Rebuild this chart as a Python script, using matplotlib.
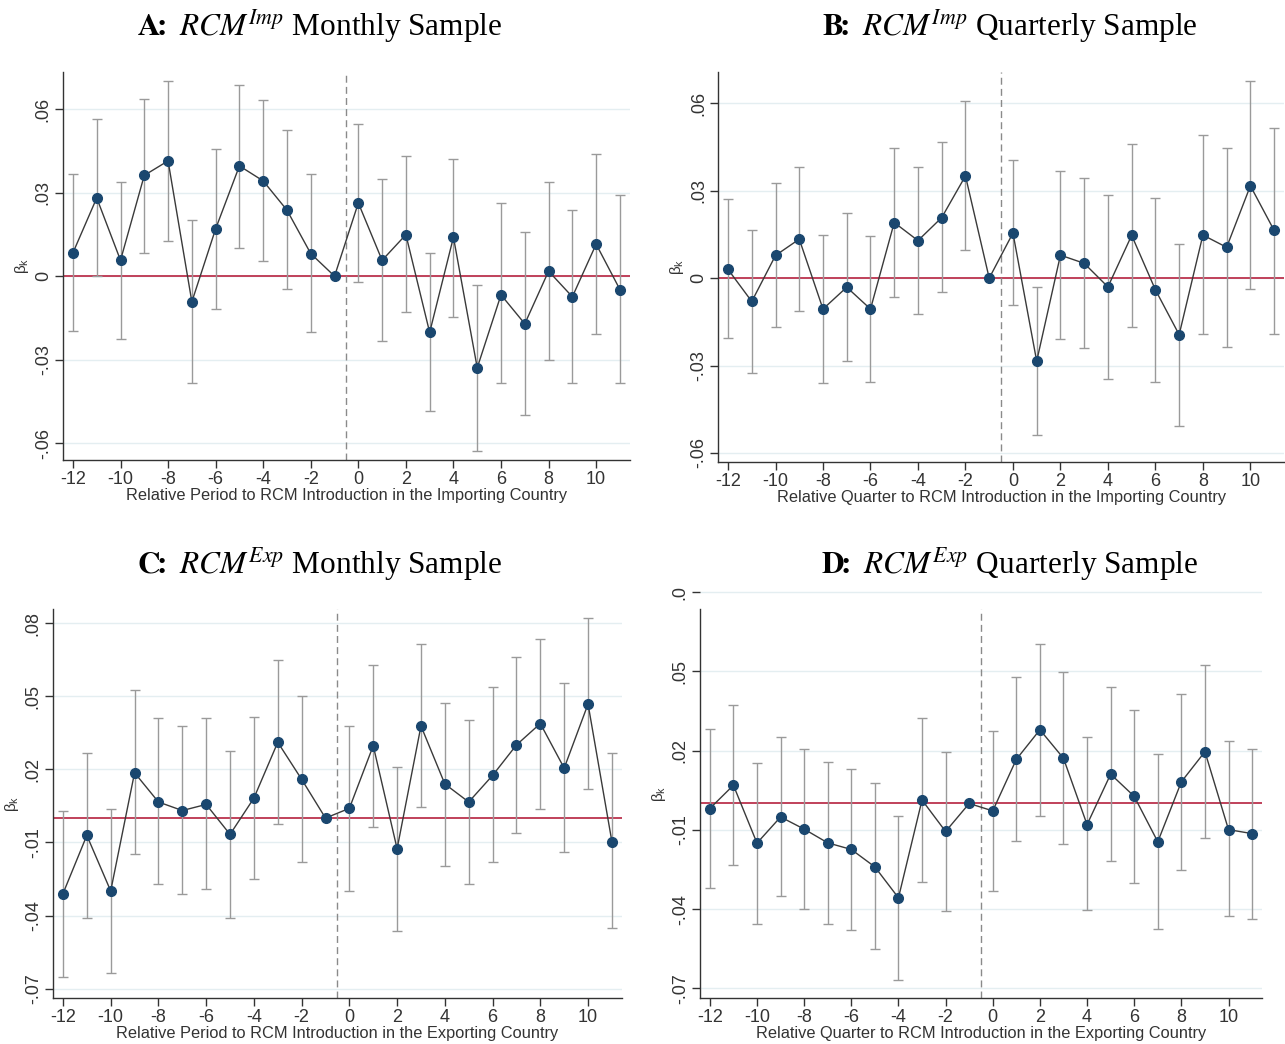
import numpy as np
import matplotlib
matplotlib.use("Agg")
import matplotlib.pyplot as plt

plt.rcParams['font.family'] = ['Liberation Sans', 'DejaVu Sans']
plt.rcParams['mathtext.fontset'] = 'stix'

periods = list(range(-12, 12))

# A: RCM Imp, monthly
a_coef = [0.0084, 0.0281, 0.0057, 0.0362, 0.0414, -0.0092, 0.0170, 0.0396, 0.0342, 0.0237, 0.0081, 0.0,
          0.0263, 0.0057, 0.0149, -0.0202, 0.0140, -0.0329, -0.0067, -0.0171, 0.0018, -0.0074, 0.0115, -0.0048]
a_hi = [0.0366, 0.0564, 0.0339, 0.0637, 0.0700, 0.0202, 0.0458, 0.0687, 0.0633, 0.0524, 0.0366, np.nan,
        0.0546, 0.0349, 0.0431, 0.0085, 0.0422, -0.0031, 0.0261, 0.0159, 0.0339, 0.0238, 0.0440, 0.0290]
a_lo = [-0.0196, 0.0000, -0.0227, 0.0085, 0.0128, -0.0385, -0.0117, 0.0102, 0.0054, -0.0047, -0.0201, np.nan,
        -0.0020, -0.0232, -0.0130, -0.0483, -0.0145, -0.0626, -0.0385, -0.0500, -0.0301, -0.0385, -0.0209, -0.0385]

# B: RCM Imp, quarterly
b_coef = [0.0030, -0.0080, 0.0078, 0.0134, -0.0106, -0.0031, -0.0106, 0.0191, 0.0129, 0.0208, 0.0351, 0.0,
          0.0155, -0.0285, 0.0079, 0.0051, -0.0030, 0.0147, -0.0040, -0.0194, 0.0148, 0.0106, 0.0317, 0.0164]
b_hi = [0.0271, 0.0164, 0.0325, 0.0380, 0.0149, 0.0224, 0.0145, 0.0447, 0.0380, 0.0466, 0.0609, np.nan,
        0.0406, -0.0030, 0.0368, 0.0343, 0.0287, 0.0461, 0.0276, 0.0118, 0.0490, 0.0447, 0.0677, 0.0516]
b_lo = [-0.0207, -0.0325, -0.0169, -0.0114, -0.0359, -0.0283, -0.0355, -0.0063, -0.0122, -0.0046, 0.0098, np.nan,
        -0.0093, -0.0540, -0.0210, -0.0240, -0.0346, -0.0166, -0.0355, -0.0506, -0.0190, -0.0237, -0.0038, -0.0190]

# C: RCM Exp, monthly
c_coef = [-0.0310, -0.0071, -0.0299, 0.0186, 0.0066, 0.0031, 0.0056, -0.0067, 0.0082, 0.0311, 0.0159, 0.0,
          0.0040, 0.0297, -0.0126, 0.0378, 0.0140, 0.0066, 0.0175, 0.0300, 0.0388, 0.0205, 0.0468, -0.0097]
c_hi = [0.0030, 0.0266, 0.0038, 0.0525, 0.0410, 0.0378, 0.0410, 0.0277, 0.0414, 0.0649, 0.0499, np.nan,
        0.0378, 0.0629, 0.0211, 0.0715, 0.0474, 0.0403, 0.0538, 0.0660, 0.0735, 0.0553, 0.0821, 0.0266]
c_lo = [-0.0652, -0.0410, -0.0634, -0.0148, -0.0271, -0.0312, -0.0293, -0.0410, -0.0248, -0.0026, -0.0182, np.nan,
        -0.0299, -0.0037, -0.0464, 0.0044, -0.0196, -0.0271, -0.0182, -0.0062, 0.0038, -0.0141, 0.0121, -0.0453]

# D: RCM Exp, quarterly
d_coef = [-0.0019, 0.0069, -0.0150, -0.0051, -0.0097, -0.0149, -0.0174, -0.0240, -0.0357, 0.0013, -0.0106, 0.0,
          -0.0028, 0.0167, 0.0279, 0.0171, -0.0080, 0.0111, 0.0027, -0.0145, 0.0082, 0.0196, -0.0099, -0.0114]
d_hi = [0.0283, 0.0371, 0.0154, 0.0251, 0.0208, 0.0158, 0.0130, 0.0076, -0.0047, 0.0322, 0.0196, np.nan,
        0.0274, 0.0479, 0.0605, 0.0498, 0.0253, 0.0442, 0.0354, 0.0186, 0.0413, 0.0524, 0.0236, 0.0208]
d_lo = [-0.0320, -0.0231, -0.0455, -0.0351, -0.0400, -0.0455, -0.0479, -0.0552, -0.0668, -0.0297, -0.0408, np.nan,
        -0.0330, -0.0143, -0.0047, -0.0153, -0.0404, -0.0219, -0.0302, -0.0474, -0.0251, -0.0129, -0.0427, -0.0436]

ab_yticks = [-0.06, -0.03, 0, 0.03, 0.06]
ab_ylabels = ['-.06', '-.03', '0', '.03', '.06']
cd_yticks = [-0.07, -0.04, -0.01, 0.02, 0.05, 0.08]
c_ylabels = ['-.07', '-.04', '-.01', '.02', '.05', '.08']
d_ylabels = ['-.07', '-.04', '-.01', '.02', '.05', '.0']
xticks = list(range(-12, 11, 2))

NAVY = '#1a476f'
GRID = '#e4eef1'
ZERO = '#c0415a'
INK = '#333333'


def draw_panel(ax, coef, lo, hi, ylim, yticks, ylabels, xlabel, spine_top=None):
    x = np.array(periods)
    coef = np.array(coef)
    lo = np.array(lo)
    hi = np.array(hi)
    ax.set_xlim(-12.42, 11.42)
    ax.set_ylim(*ylim)
    top = ylim[1] if spine_top is None else spine_top
    for t in yticks:
        ax.axhline(t, color=GRID, lw=1.0, zorder=0)
    ax.axhline(0, color=ZERO, lw=1.4, zorder=1)
    ax.plot([-0.5, -0.5], [ylim[0], top], color='#8a8a8a', lw=1.0,
            dashes=(5, 3), zorder=1)
    ax.errorbar(x, coef, yerr=[coef - lo, hi - coef], fmt='none', ecolor='#9a9a9a',
                elinewidth=1.0, capsize=3.5, capthick=1.0, zorder=2)
    ax.plot(x, coef, color='#3a3a3a', lw=1.0, zorder=3)
    ax.plot(x, coef, 'o', color=NAVY, ms=7, zorder=4)

    ax.set_xticks(xticks)
    ax.set_xticklabels([str(v) for v in xticks], fontsize=13, color=INK)
    ax.set_yticks(yticks)
    ax.set_yticklabels(ylabels, fontsize=13, rotation=90, va='center', color=INK)
    ax.tick_params(axis='both', direction='out', length=6, width=1, color=INK)
    ax.tick_params(axis='y', pad=2)
    ax.tick_params(axis='x', pad=2)
    ax.set_xlabel(xlabel, fontsize=11.8, labelpad=0, color=INK)
    ax.set_ylabel(r'$\mathregular{β_k}$', fontsize=11, labelpad=3, color=INK)
    for side in ['top', 'right']:
        ax.spines[side].set_visible(False)
    for side in ['left', 'bottom']:
        ax.spines[side].set_color(INK)
        ax.spines[side].set_linewidth(1.0)
    ax.spines['left'].set_bounds(ylim[0], top)
    ax.set_facecolor('white')


fig = plt.figure(figsize=(12.85, 10.44), dpi=100)

axA = fig.add_axes([0.049, 0.5594, 0.4412, 0.3716])
draw_panel(axA, a_coef, a_lo, a_hi, (-0.066, 0.0733), ab_yticks, ab_ylabels,
           'Relative Period to RCM Introduction in the Importing Country')

axB = fig.add_axes([0.5588, 0.5575, 0.4405, 0.3736])
draw_panel(axB, b_coef, b_lo, b_hi, (-0.0631, 0.0708), ab_yticks, ab_ylabels,
           'Relative Quarter to RCM Introduction in the Importing Country')

axC = fig.add_axes([0.0412, 0.0441, 0.4428, 0.3726])
draw_panel(axC, c_coef, c_lo, c_hi, (-0.0738, 0.0858), cd_yticks, c_ylabels,
           'Relative Period to RCM Introduction in the Exporting Country')

axD = fig.add_axes([0.5447, 0.0441, 0.4374, 0.3918])
draw_panel(axD, d_coef, d_lo, d_hi, (-0.0736, 0.0812), cd_yticks, d_ylabels,
           'Relative Quarter to RCM Introduction in the Exporting Country',
           spine_top=0.0735)

title_kw = dict(fontsize=22.5, ha='center', va='center', family='Liberation Serif')
fig.text(0.249, 0.975, r'$\mathbf{A\!\!:}$ $\mathit{RCM}^{Imp}$ Monthly Sample', **title_kw)
fig.text(0.786, 0.975, r'$\mathbf{B\!\!:}$ $\mathit{RCM}^{Imp}$ Quarterly Sample', **title_kw)
fig.text(0.249, 0.460, r'$\mathbf{C\!\!:}$ $\mathit{RCM}^{Exp}$ Monthly Sample', **title_kw)
fig.text(0.786, 0.460, r'$\mathbf{D\!\!:}$ $\mathit{RCM}^{Exp}$ Quarterly Sample', **title_kw)

fig.savefig('out.png', dpi=100, facecolor='white')
